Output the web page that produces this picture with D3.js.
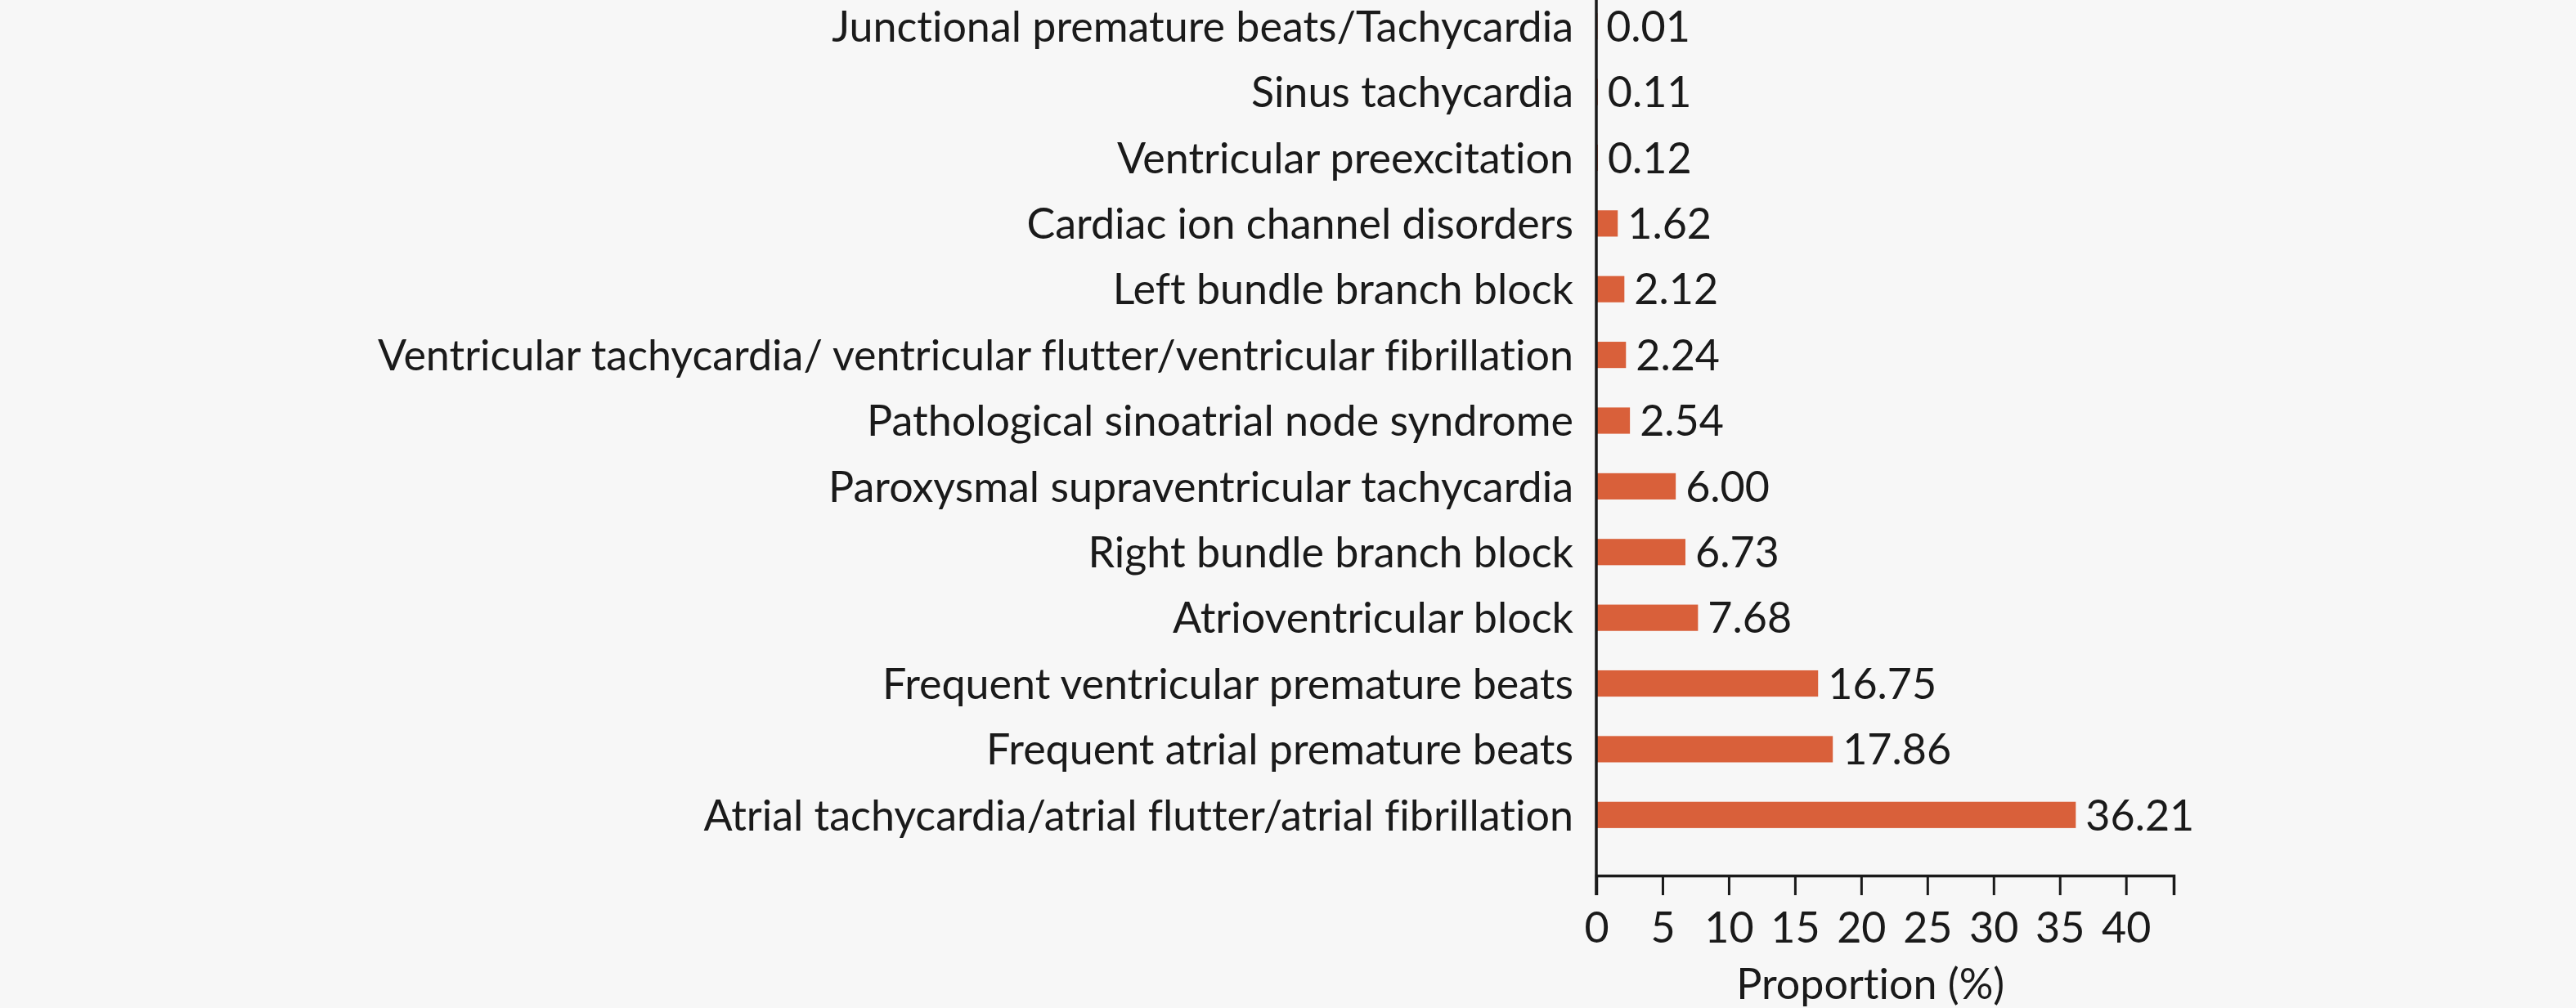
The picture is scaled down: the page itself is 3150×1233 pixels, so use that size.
<!DOCTYPE html>
<html>
<head>
<meta charset="utf-8">
<script src="https://cdn.jsdelivr.net/npm/d3@7"></script>
<style>
  body { margin: 0; background: #f7f7f7; }
  text { font-family: Lato, "Open Sans", sans-serif; fill: #1a1a1a; font-variant-ligatures: none; }
</style>
</head>
<body>
<div id="vis"></div>
<script>
const WIDTH = 3150;
const HEIGHT = 1233;

// Datos ------------------------------------------------------------
const categorias = [
    "Junctional premature beats/Tachycardia",
    "Sinus tachycardia",
    "Ventricular preexcitation",
    "Cardiac ion channel disorders",
    "Left bundle branch block",
    "Ventricular tachycardia/ ventricular flutter/ventricular fibrillation",
    "Pathological sinoatrial node syndrome",
    "Paroxysmal supraventricular tachycardia",
    "Right bundle branch block",
    "Atrioventricular block",
    "Frequent ventricular premature beats",
    "Frequent atrial premature beats",
    "Atrial tachycardia/atrial flutter/atrial fibrillation"
];
const valores = [0.01, 0.11, 0.12, 1.62, 2.12, 2.24, 2.54, 6.00, 6.73, 7.68, 16.75, 17.86, 36.21];
const etiquetas = ["0.01", "0.11", "0.12", "1.62", "2.12", "2.24", "2.54", "6.00", "6.73", "7.68", "16.75", "17.86", "36.21"];
const ticksX = [0, 5, 10, 15, 20, 25, 30, 35, 40];
const tituloX = "Proportion (%)";

const SVG = d3.select("#vis").append("svg")
    .attr("width", WIDTH)
    .attr("height", HEIGHT);

// Escalas
const ejeX0 = 1952;
const ejeY = 1071;
const x = d3.scaleLinear().domain([0, 43.6]).range([ejeX0, 2658]);
const y = d3.scaleBand().domain(categorias).range([-8, 1037]).paddingInner(0.6).paddingOuter(0.3);
const tamFuente = 52;

// Barras
SVG.selectAll("rect.barra")
    .data(valores)
    .enter()
    .append("rect")
    .attr("class", "barra")
    .attr("x", x(0))
    .attr("y", (d, i) => y(categorias[i]))
    .attr("width", d => Math.max(x(d) - x(0), 1.5))
    .attr("height", y.bandwidth())
    .attr("fill", "#d9603a");

// Etiquetas de valor
SVG.selectAll("text.valor")
    .data(valores)
    .enter()
    .append("text")
    .attr("class", "valor")
    .attr("x", d => x(d) + 12)
    .attr("y", (d, i) => y(categorias[i]) + y.bandwidth() / 2)
    .attr("dy", "0.36em")
    .style("font-size", tamFuente + "px")
    .text((d, i) => etiquetas[i]);

// Eje Y (solo linea y etiquetas)
const ejeIzq = SVG.append("g")
    .attr("transform", `translate(${ejeX0},0)`)
    .call(d3.axisLeft(y).tickSize(0).tickPadding(28));
ejeIzq.select(".domain").remove();
ejeIzq.selectAll("text")
    .attr("dy", "0.36em")
    .style("font-size", tamFuente + "px")
    .style("font-family", "Lato, sans-serif")
    .attr("fill", "#1a1a1a");

SVG.append("line")
    .attr("x1", ejeX0).attr("x2", ejeX0)
    .attr("y1", 0).attr("y2", ejeY + 24)
    .attr("stroke", "#1a1a1a")
    .attr("stroke-width", 3.5);

// Eje X
const ejeAbajo = SVG.append("g")
    .attr("transform", `translate(0,${ejeY})`)
    .call(d3.axisBottom(x).tickValues(ticksX).tickFormat(d3.format("d")).tickSizeOuter(0).tickSize(24).tickPadding(21));
ejeAbajo.select(".domain")
    .attr("stroke", "#1a1a1a")
    .attr("stroke-width", 3.5);
ejeAbajo.selectAll(".tick line")
    .attr("stroke", "#1a1a1a")
    .attr("stroke-width", 3);
ejeAbajo.selectAll("text")
    .style("font-size", tamFuente + "px")
    .style("font-family", "Lato, sans-serif")
    .attr("fill", "#1a1a1a");

SVG.append("text")
    .attr("x", x(20.7))
    .attr("y", 1203)
    .attr("dy", "0.36em")
    .attr("text-anchor", "middle")
    .style("font-size", tamFuente + "px")
    .text(tituloX);
</script>
</body>
</html>
